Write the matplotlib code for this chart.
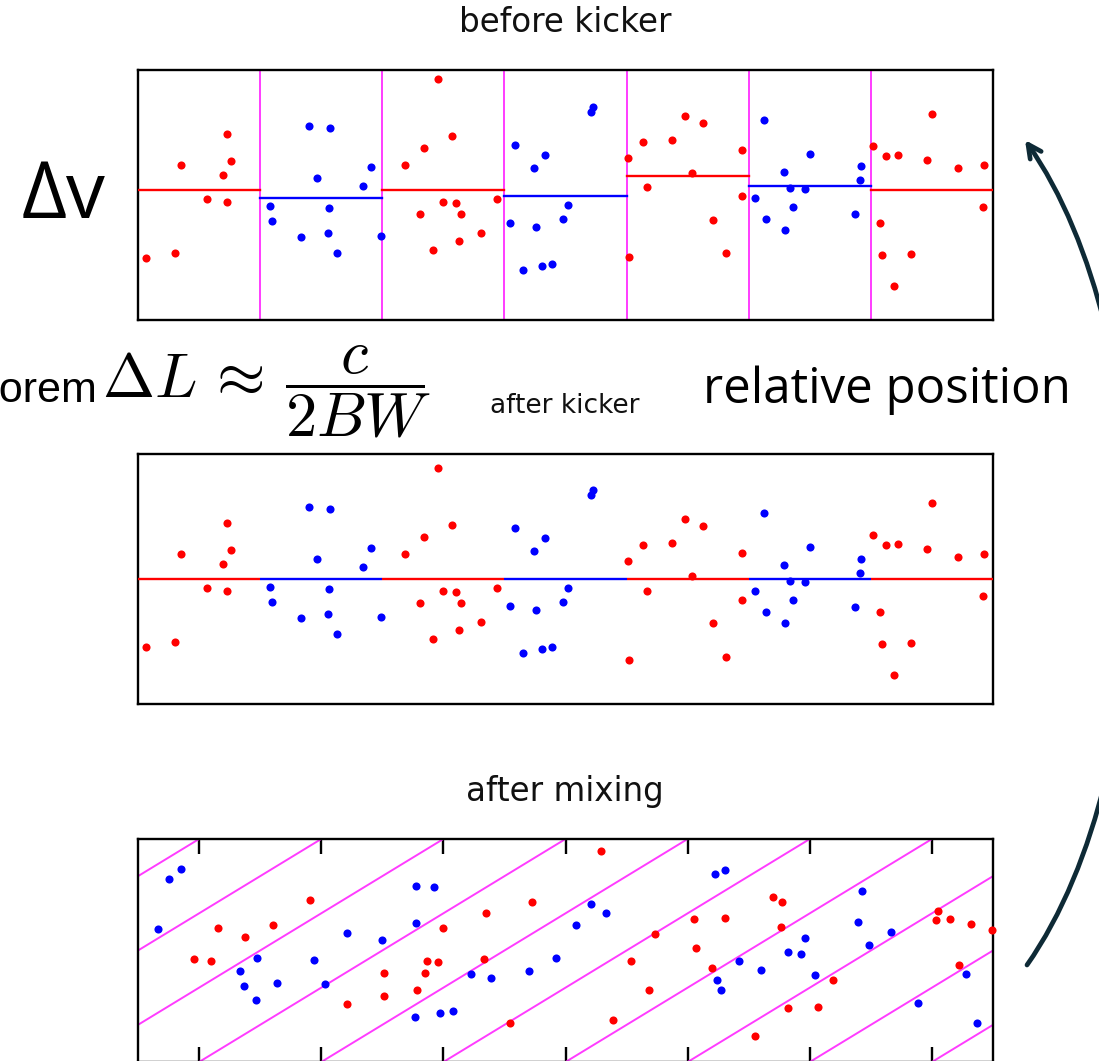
import numpy as np
import matplotlib
matplotlib.use("Agg")
import matplotlib.pyplot as plt
from matplotlib.path import Path
from matplotlib.patches import FancyArrowPatch

plt.rcParams["mathtext.fontset"] = "cm"

# ---- before kicker: particle positions (x in bin units, y = velocity offset) ----
red_x = [0.065, 0.305, 0.350, 0.731, 0.759, 0.698, 0.567, 0.731,
         2.339, 2.188, 2.306, 2.454, 2.571, 2.500, 2.604, 2.942, 2.642, 2.806, 2.626, 2.418,
         4.014, 4.137, 4.374, 4.478, 4.626, 4.536, 4.170, 4.705, 4.020, 4.948, 4.943, 4.817,
         6.015, 6.124, 6.222, 6.498, 6.457, 6.716, 6.929, 6.918, 6.077, 6.091, 6.326, 6.190]
red_y = [-2.51, -2.33, 1.20, 2.45, 1.36, 0.79, -0.17, -0.27,
         1.88, 1.20, -0.77, 4.64, 2.36, -0.27, -0.31, -0.17, -0.77, -1.52, -1.84, -2.19,
         1.49, 2.13, 2.20, 3.16, 2.89, 0.89, 0.31, -1.00, -2.48, 1.81, -0.05, -2.33,
         1.96, 1.55, 1.60, 3.23, 1.39, 1.09, 1.20, -0.48, -1.11, -2.39, -2.35, -3.64]
blue_x = [1.403, 1.572, 1.910, 1.468, 1.845, 1.081, 1.561, 1.100, 1.337, 1.558, 1.987, 1.627,
          3.723, 3.706, 3.087, 3.332, 3.240, 3.521, 3.043, 3.477, 3.261, 3.150, 3.308, 3.392,
          5.123, 5.502, 5.292, 5.919, 5.911, 5.336, 5.463, 5.054, 5.360, 5.142, 5.873, 5.300]
blue_y = [2.77, 2.69, 1.11, 0.67, 0.36, -0.45, -0.53, -1.03, -1.69, -1.53, -1.63, -2.32,
          3.53, 3.33, 2.01, 1.61, 1.09, -0.40, -1.11, -0.97, -1.29, -3.00, -2.85, -2.75,
          3.00, 1.64, 0.92, 1.16, 0.59, 0.29, 0.23, -0.11, -0.49, -0.97, -0.75, -1.39]

# mean velocity offset of each bin, and the colour of the bin
bin_means = [0.19, -0.13, 0.19, -0.04, 0.77, 0.36, 0.19]
bin_colors = ["red", "blue", "red", "blue", "red", "blue", "red"]

# ---- after mixing: positions in relative coordinates ----
mix_red_x = [0.653, 0.878, 1.108, 1.411, 0.461, 0.598, 2.014, 2.017, 1.709, 2.352,
             2.364, 2.459, 2.287, 2.495, 2.849, 3.228, 3.791, 2.835, 3.046, 4.233,
             4.036, 4.555, 4.571, 4.181, 3.886, 4.702, 5.201, 5.273, 4.808, 5.264,
             5.693, 5.322, 5.565, 5.052, 6.552, 6.536, 6.651, 6.822, 6.992, 6.719]
mix_red_y = [1.799, 1.678, 1.847, 2.179, 1.386, 1.359, 1.201, 0.888, 0.780, 1.204,
             1.363, 1.345, 0.973, 1.803, 2.009, 2.153, 2.839, 1.386, 0.521, 1.718,
             1.363, 1.920, 1.538, 0.969, 0.561, 1.261, 2.224, 2.149, 1.933, 1.816,
             1.107, 0.722, 0.736, 0.350, 2.036, 1.910, 1.928, 1.861, 1.772, 1.301]
mix_blue_x = [0.352, 0.254, 0.164, 0.977, 0.833, 0.868, 0.966, 1.136, 1.439, 1.534,
              1.709, 1.998, 2.274, 2.279, 2.265, 2.423, 2.470, 2.581, 2.729, 2.893,
              3.199, 3.420, 3.586, 3.706, 3.834, 4.728, 4.803, 4.741, 4.773, 4.918,
              5.103, 5.319, 5.428, 5.461, 5.543, 5.925, 5.892, 5.985, 6.165, 6.386,
              6.777, 6.867]
mix_blue_y = [2.593, 2.466, 1.789, 1.399, 1.224, 1.022, 0.830, 1.067, 1.372, 1.045,
              1.740, 1.645, 2.368, 1.866, 0.605, 2.350, 0.659, 0.686, 1.180, 1.126,
              1.220, 1.399, 1.843, 2.122, 2.005, 2.525, 2.579, 1.099, 0.975, 1.359,
              1.242, 1.480, 1.457, 1.668, 1.166, 2.301, 1.888, 1.570, 1.745, 0.790,
              1.184, 0.521]

n_bins = len(bin_means)
magenta = "#ff3cff"
W, H = 1099, 1061


def frac_box(left, top, right, bottom):
    return [left / W, 1 - bottom / H, (right - left) / W, (bottom - top) / H]


def kicked(xs, ys):
    return [y - bin_means[int(np.floor(x))] for x, y in zip(xs, ys)]


fig = plt.figure(figsize=(W / 100, H / 100), dpi=100)

ax1 = fig.add_axes(frac_box(138, 70, 993, 320))
ax2 = fig.add_axes(frac_box(138, 454, 993, 704))
ax3 = fig.add_axes(frac_box(138, 839, 993, 1062))

for ax in (ax1, ax2):
    ax.set_xlim(0, n_bins)
    ax.set_ylim(-5, 5)
    ax.set_xticks([])
    ax.set_yticks([])

for ax in (ax1, ax2, ax3):
    for sp in ax.spines.values():
        sp.set_linewidth(1.7)
        sp.set_color("black")

dot = dict(s=34, linewidths=0, zorder=4, clip_on=False)

# before kicker
for b in range(1, n_bins):
    ax1.axvline(b, color=magenta, lw=1.4, zorder=2)
for b in range(n_bins):
    ax1.plot([b, b + 1], [bin_means[b], bin_means[b]], color=bin_colors[b], lw=1.7, zorder=3)
ax1.scatter(red_x, red_y, color="red", **dot)
ax1.scatter(blue_x, blue_y, color="blue", **dot)

# after kicker
for b in range(n_bins):
    ax2.plot([b, b + 1], [0, 0], color=bin_colors[b], lw=1.7, zorder=3, solid_capstyle="butt")
ax2.scatter(red_x, kicked(red_x, red_y), color="red", **dot)
ax2.scatter(blue_x, kicked(blue_x, blue_y), color="blue", **dot)

# after mixing
ax3.set_xlim(0, n_bins)
ax3.set_ylim(0, 3)
ax3.set_yticks([])
ax3.set_xticks(np.arange(n_bins) + 0.5)
ax3.tick_params(axis="x", direction="in", length=11, width=1.7, top=True, bottom=True,
                labelbottom=False, labeltop=False)
for k in range(-3, n_bins):
    xs = np.array([k + 0.5, k + 3.5])
    ax3.plot(xs, xs - (k + 0.5), color=magenta, lw=1.4, zorder=2)
ax3.scatter(mix_red_x, mix_red_y, color="red", **dot)
ax3.scatter(mix_blue_x, mix_blue_y, color="blue", **dot)

# labels
title_kw = dict(ha="center", va="center", family="DejaVu Sans", color="#111111")
fig.text(565 / W, 1 - 22 / H, "before kicker", fontsize=23.5, **title_kw)
fig.text(565 / W, 1 - 406 / H, "after kicker", fontsize=19, **title_kw)
fig.text(565 / W, 1 - 792 / H, "after mixing", fontsize=23.5, **title_kw)

fig.text(22 / W, 1 - 197 / H, "Δv", fontsize=56, family=["Open Sans", "DejaVu Sans"],
         ha="left", va="center")
fig.text(703 / W, 1 - 390 / H, "relative position", fontsize=35.5,
         family=["Open Sans", "DejaVu Sans"], ha="left", va="center")
fig.text(97 / W, 1 - 402 / H, "theorem", fontsize=31, family="Liberation Sans",
         ha="right", va="baseline")
fig.text(102 / W, 1 - 392 / H, r"$\Delta L\,\approx\,\dfrac{c}{2BW}$", fontsize=45,
         ha="left", va="center")

# curved arrow on the right
pts = [(1027, 965), (1167, 765), (1165, 340), (1025, 140)]
verts = [(px / W, 1 - py / H) for px, py in pts]
curve = Path(verts, [Path.MOVETO, Path.CURVE4, Path.CURVE4, Path.CURVE4])
arrow = FancyArrowPatch(path=curve, arrowstyle="->", mutation_scale=24, lw=3.4,
                        color="#0e2a36", transform=fig.transFigure, shrinkA=0, shrinkB=0)
fig.add_artist(arrow)

fig.savefig("out.png", dpi=100)
